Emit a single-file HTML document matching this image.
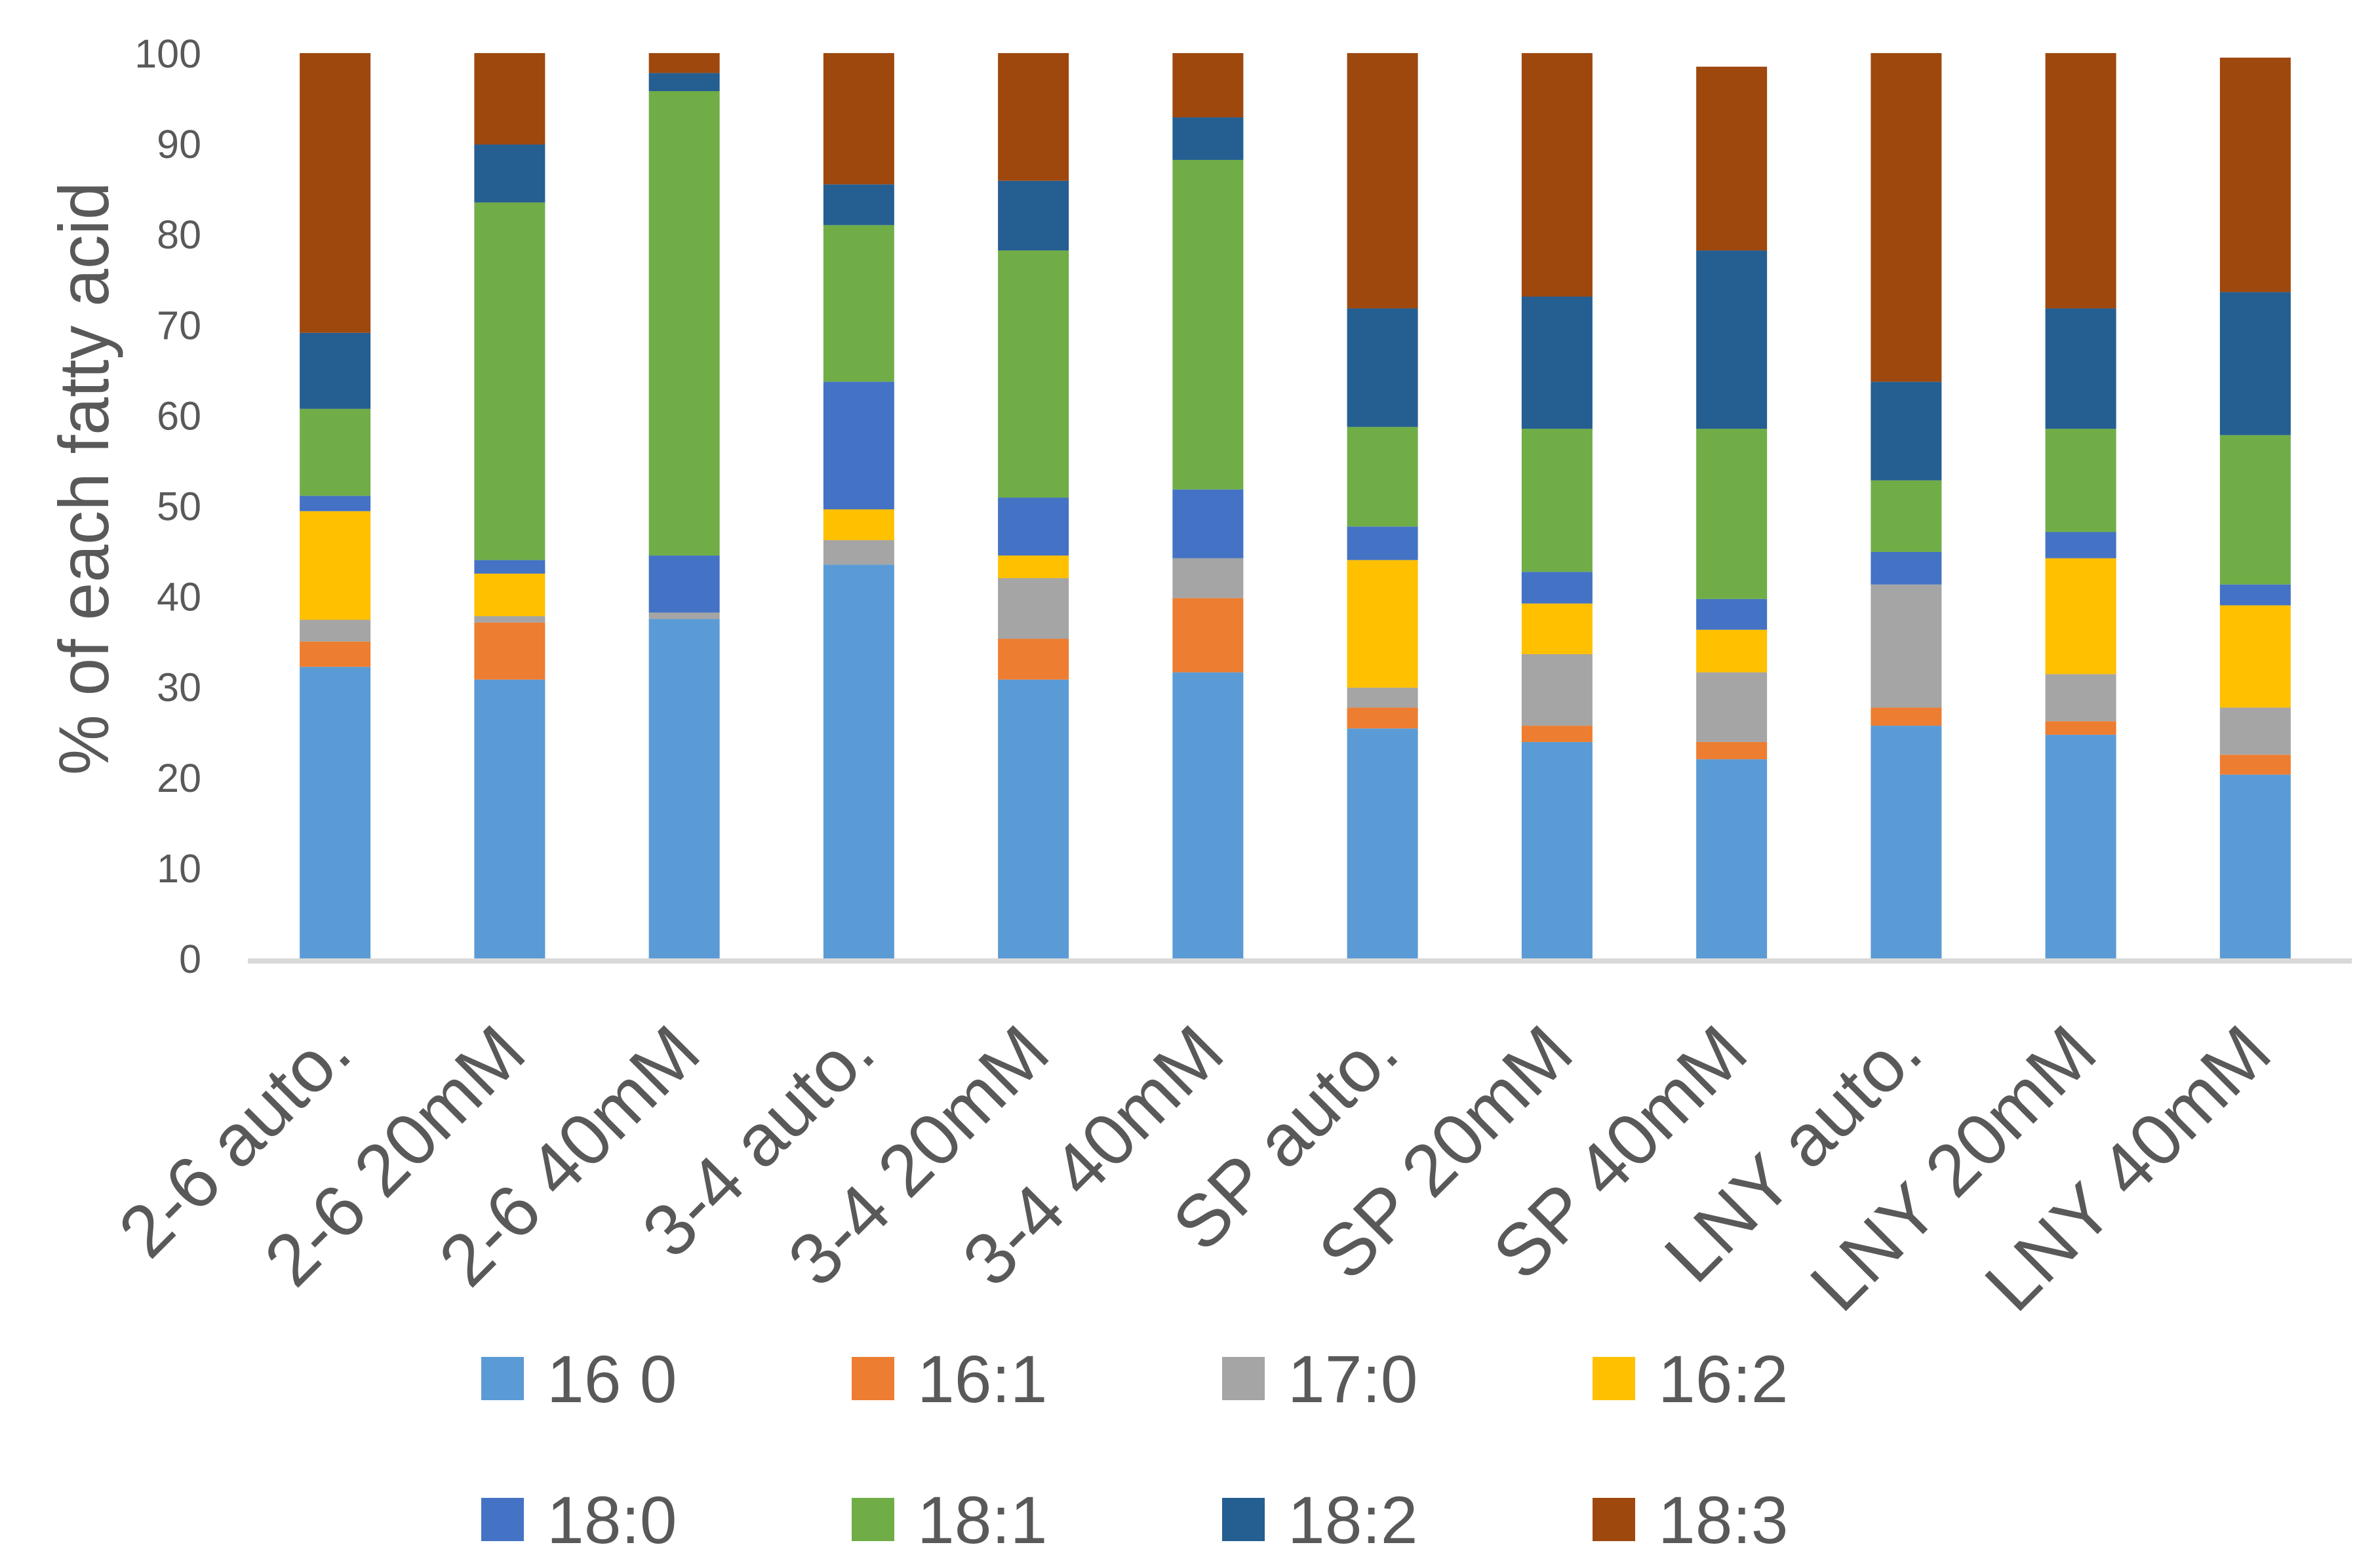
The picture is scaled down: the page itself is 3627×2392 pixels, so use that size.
<!DOCTYPE html>
<html><head><meta charset="utf-8"><style>
html,body{margin:0;padding:0;background:#fff;}
svg{display:block;font-family:"Liberation Sans",sans-serif;}
</style></head><body>
<svg id="chart" width="3627" height="2392" viewBox="0 0 3627 2392" xmlns="http://www.w3.org/2000/svg">
<rect width="3627" height="2392" fill="#fff"/>
<g id="grid"></g>
<g id="bars"></g>
<g id="yticks"></g>
<g id="xlabels"></g>
<g id="legend"></g>
<text x="0" y="0" transform="translate(165,730) rotate(-90)" text-anchor="middle" font-size="108" fill="#595959" textLength="905" lengthAdjust="spacingAndGlyphs">% of each fatty acid</text>
</svg>
<script>
const categories = ["2-6 auto.","2-6 20mM","2-6 40mM","3-4 auto.","3-4 20mM","3-4 40mM","SP auto.","SP 20mM","SP 40mM","LNY auto.","LNY 20mM","LNY 40mM"];
const seriesNames = ["16 0","16:1","17:0","16:2","18:0","18:1","18:2","18:3"];
const s160 = [32.2,30.8,37.5,43.5,30.8,31.6,25.4,23.9,22.0,25.7,24.7,20.3];
const s161 = [2.8,6.3,0,0,4.5,8.2,2.3,1.8,1.9,2.0,1.5,2.2];
const s170 = [2.4,0.7,0.7,2.7,6.7,4.4,2.2,7.9,7.7,13.6,5.2,5.2];
const s162 = [12.0,4.7,0,3.4,2.5,0,14.1,5.6,4.7,0,12.8,11.3];
const s180 = [1.7,1.5,6.3,14.1,6.4,7.6,3.7,3.5,3.4,3.6,2.9,2.3];
const s181 = [9.6,39.5,51.3,17.3,27.3,36.4,11.0,15.8,18.8,7.9,11.4,16.5];
const s182 = [8.4,6.4,2.0,4.5,7.7,4.7,13.1,14.6,19.7,10.9,13.3,15.8];
const s183 = [30.9,10.1,2.2,14.5,14.1,7.1,28.2,26.9,20.3,36.3,28.2,25.9];
const yTicks = [0,10,20,30,40,50,60,70,80,90,100];

const series = [s160,s161,s170,s162,s180,s181,s182,s183];
const colors = ["#5b9bd5","#ed7d31","#a5a5a5","#ffc000","#4472c4","#70ad47","#255e91","#9e480e"];
const NS = "http://www.w3.org/2000/svg";
const plotL = 378, plotR = 3573, y0 = 1462, y100 = 81;
const band = (plotR - plotL) / categories.length;
const barW = 108;
function yScale(v){ return y0 - (y0 - y100) * v / 100; }
function xCenter(i){ return plotL + band * (i + 0.5); }
function mk(tag, attrs){ const e = document.createElementNS(NS, tag); for (const k in attrs) e.setAttribute(k, attrs[k]); return e; }

const bars = document.getElementById('bars');
categories.forEach((c, i) => {
  let cum = 0;
  series.forEach((s, j) => {
    const v = s[i];
    const top = yScale(cum + v), bot = yScale(cum);
    cum += v;
    if (v <= 0) return;
    const r = mk('rect', {x: xCenter(i) - barW/2, y: top, width: barW, height: bot - top, fill: colors[j]});
    
    
    bars.appendChild(r);
  });
});

const axis = mk('line', {x1: plotL, x2: plotR + 14, y1: y0 + 4, y2: y0 + 4, stroke: '#d9d9d9', 'stroke-width': 8});


document.getElementById('grid').appendChild(axis);

const yt = document.getElementById('yticks');
yTicks.forEach(t => {
  const e = mk('text', {x: 307, y: yScale(t) + 22, 'text-anchor': 'end', 'font-size': 61, fill: '#595959'});
  e.textContent = t;
  
  
  yt.appendChild(e);
});

const xl = document.getElementById('xlabels');
categories.forEach((c, i) => {
  const x = xCenter(i) + 30, y = 1612;
  const e = mk('text', {x: x, y: y, 'text-anchor': 'end', 'font-size': 112, fill: '#595959', transform: 'rotate(-45 ' + x + ' ' + y + ')'});
  e.textContent = c;
  
  
  xl.appendChild(e);
});

const lg = document.getElementById('legend');
seriesNames.forEach((n, j) => {
  const col = j % 4, row = Math.floor(j / 4);
  const sx = 734 + col * 565;
  const cy = row === 0 ? 2103 : 2318;
  const g = mk('g', {});
  
  
  const sw = mk('rect', {x: sx, y: cy - 33, width: 65, height: 66, fill: colors[j]});
  
  
  const t = mk('text', {x: sx + 100, y: cy + 36, 'font-size': 102, fill: '#595959'});
  t.textContent = n;
  
  
  g.appendChild(sw); g.appendChild(t);
  lg.appendChild(g);
});
</script>
</body></html>
